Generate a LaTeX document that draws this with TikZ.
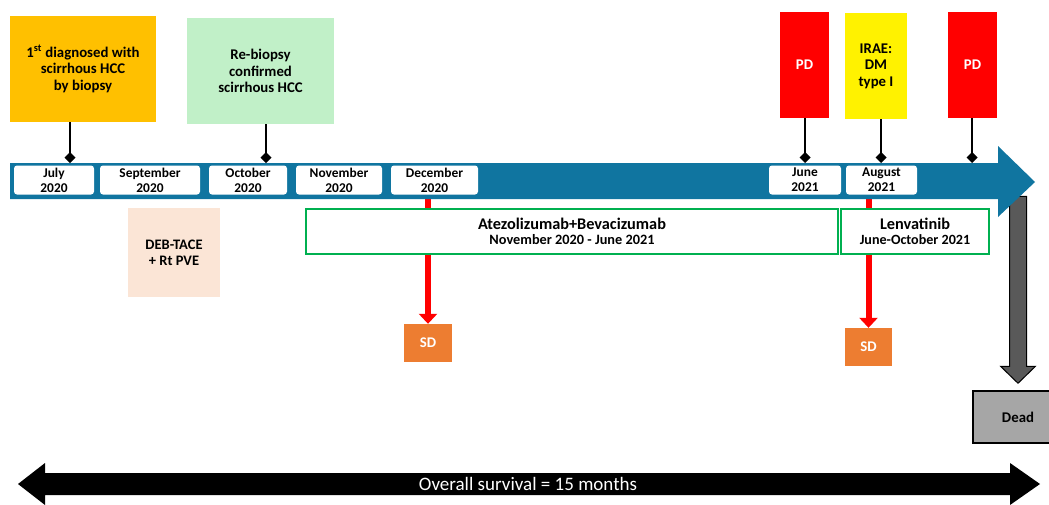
\documentclass[tikz,border=0pt]{standalone}
\usepackage{fontspec}
\setmainfont{Carlito}
\usepackage{tikz}
\usetikzlibrary{arrows.meta}

\definecolor{bandblue}{RGB}{16,117,160}
\definecolor{diagorange}{RGB}{255,192,0}
\definecolor{biopgreen}{RGB}{193,240,200}
\definecolor{tacepeach}{RGB}{251,229,214}
\definecolor{sdorange}{RGB}{237,125,49}
\definecolor{txgreen}{RGB}{0,176,80}
\definecolor{deadgray}{RGB}{166,166,166}
\definecolor{shaftgray}{RGB}{89,89,89}

\begin{document}
\begin{tikzpicture}[x=1pt, y=-1pt,
  datebox/.style={fill=white, rounded corners=3pt, inner sep=0pt, minimum height=29pt,
    align=center, font=\bfseries\fontsize{13.4}{15}\selectfont},
  eventbox/.style={inner sep=0pt, minimum height=106pt, align=center,
    font=\bfseries\fontsize{14.8}{16.5}\selectfont},
  txbox/.style={draw=txgreen, line width=1.5pt, fill=white, inner sep=0pt,
    minimum height=45pt, align=center, font=\bfseries\fontsize{14.3}{16.5}\selectfont},
  resbox/.style={fill=sdorange, text=white, inner sep=0pt, minimum height=38pt,
    font=\bfseries\fontsize{14.8}{16}\selectfont},
  stem/.style={line width=1.8pt, -{Diamond[length=11pt,width=11pt]}},
  redarrow/.style={draw=red, line width=6pt, -{Triangle[length=10pt,width=18pt]}}]
\useasboundingbox (0,0) rectangle (1049,504);
\clip (0,0) rectangle (1049,504);

%%%%% Result and end boxes %%%%%
\node[resbox, minimum width=48pt] (sd1) at (428,343) {SD};
\node[resbox, minimum width=47pt] (sd2) at (868.5,347) {SD};
\node[draw=black, line width=1.5pt, fill=deadgray, inner sep=0pt, minimum width=90pt,
  minimum height=52pt, font=\bfseries\fontsize{14.8}{16}\selectfont] (dead) at (1018,417) {Dead};

\coordinate (bandbot) at (0,199);
\draw[redarrow] (sd1.north |- bandbot) -- (sd1.north);
\draw[redarrow] (sd2.north |- bandbot) -- (sd2.north);

% gray arrow down to dead
\draw[fill=shaftgray, draw=black, line width=1pt] (dead.north) ++(0,-7) -- ++(17.5,-17)
  -- ++(-9,0) -- ++(0,-170) -- ++(-17,0) -- ++(0,170) -- ++(-9,0) -- cycle;

%%%%% Timeline %%%%%
\fill[bandblue] (10,163) -- (998,163) -- (998,146) -- (1035,182) -- (998,217)
  -- (998,199) -- (10,199) -- cycle;

\node[datebox, minimum width=80pt] (jul) at (54,180) {July\\2020};
\node[datebox, minimum width=100pt] (sep) at (150,180) {September\\2020};
\node[datebox, minimum width=78pt] (oct) at (248,180) {October\\2020};
\node[datebox, minimum width=86pt] (nov) at (339,180) {November\\2020};
\node[datebox, minimum width=87pt] (dec) at (434.5,180) {December\\2020};
\node[datebox, minimum width=72pt] (jun) at (805,180) {June\\2021};
\node[datebox, minimum width=71pt] (aug) at (881.5,180) {August\\2021};

%%%%% Events above %%%%%
\node[eventbox, fill=diagorange, minimum width=146pt] (diag) at (83,69)
  {1\textsuperscript{st} diagnosed with\\scirrhous HCC\\by biopsy};
\node[eventbox, fill=biopgreen, minimum width=147pt] (rebx) at (260.5,71)
  {Re-biopsy\\confirmed\\scirrhous HCC};
\node[eventbox, fill=red, text=white, minimum width=49pt] (pd1) at (804.5,65) {PD};
\node[eventbox, fill=yellow, minimum width=62pt] (irae) at (876,66) {IRAE:\\DM\\type I};
\node[eventbox, fill=red, text=white, minimum width=49pt] (pd2) at (972.5,65) {PD};

\coordinate (d1) at (70,163);
\coordinate (d2) at (266,163);
\coordinate (d3) at (805,163);
\coordinate (d4) at (881,163);
\coordinate (d5) at (972,163);
\draw[stem] (diag.south -| d1) -- (d1);
\draw[stem] (rebx.south -| d2) -- (d2);
\draw[stem] (pd1.south -| d3) -- (d3);
\draw[stem] (irae.south -| d4) -- (d4);
\draw[stem] (pd2.south -| d5) -- (d5);

%%%%% Treatments %%%%%
\node[fill=tacepeach, inner sep=0pt, minimum width=92pt, minimum height=89pt, align=center,
  font=\bfseries\fontsize{14.5}{16}\selectfont] (tace) at (174,252.5) {DEB-TACE\\+ Rt PVE};
\node[txbox, minimum width=532pt] (atezo) at (572,231.5)
  {{\fontsize{16.3}{18}\selectfont Atezolizumab+Bevacizumab}\\[-2pt]
   November 2020 - June 2021};
\node[txbox, minimum width=148pt] (lenva) at (915,231.5)
  {{\fontsize{16.3}{18}\selectfont Lenvatinib}\\[-2pt]
   {\fontsize{14.1}{16.5}\selectfont June-October 2021}};

%%%%% Overall survival %%%%%
\fill[black] (18,484) -- (45,463) -- (45,473) -- (1010,473) -- (1010,463) -- (1040,484)
  -- (1010,505) -- (1010,495) -- (45,495) -- (45,505) -- cycle;
\node[text=white, font=\fontsize{19}{21}\selectfont] (os) at (528,484)
  {Overall survival = 15 months};
\end{tikzpicture}
\end{document}
